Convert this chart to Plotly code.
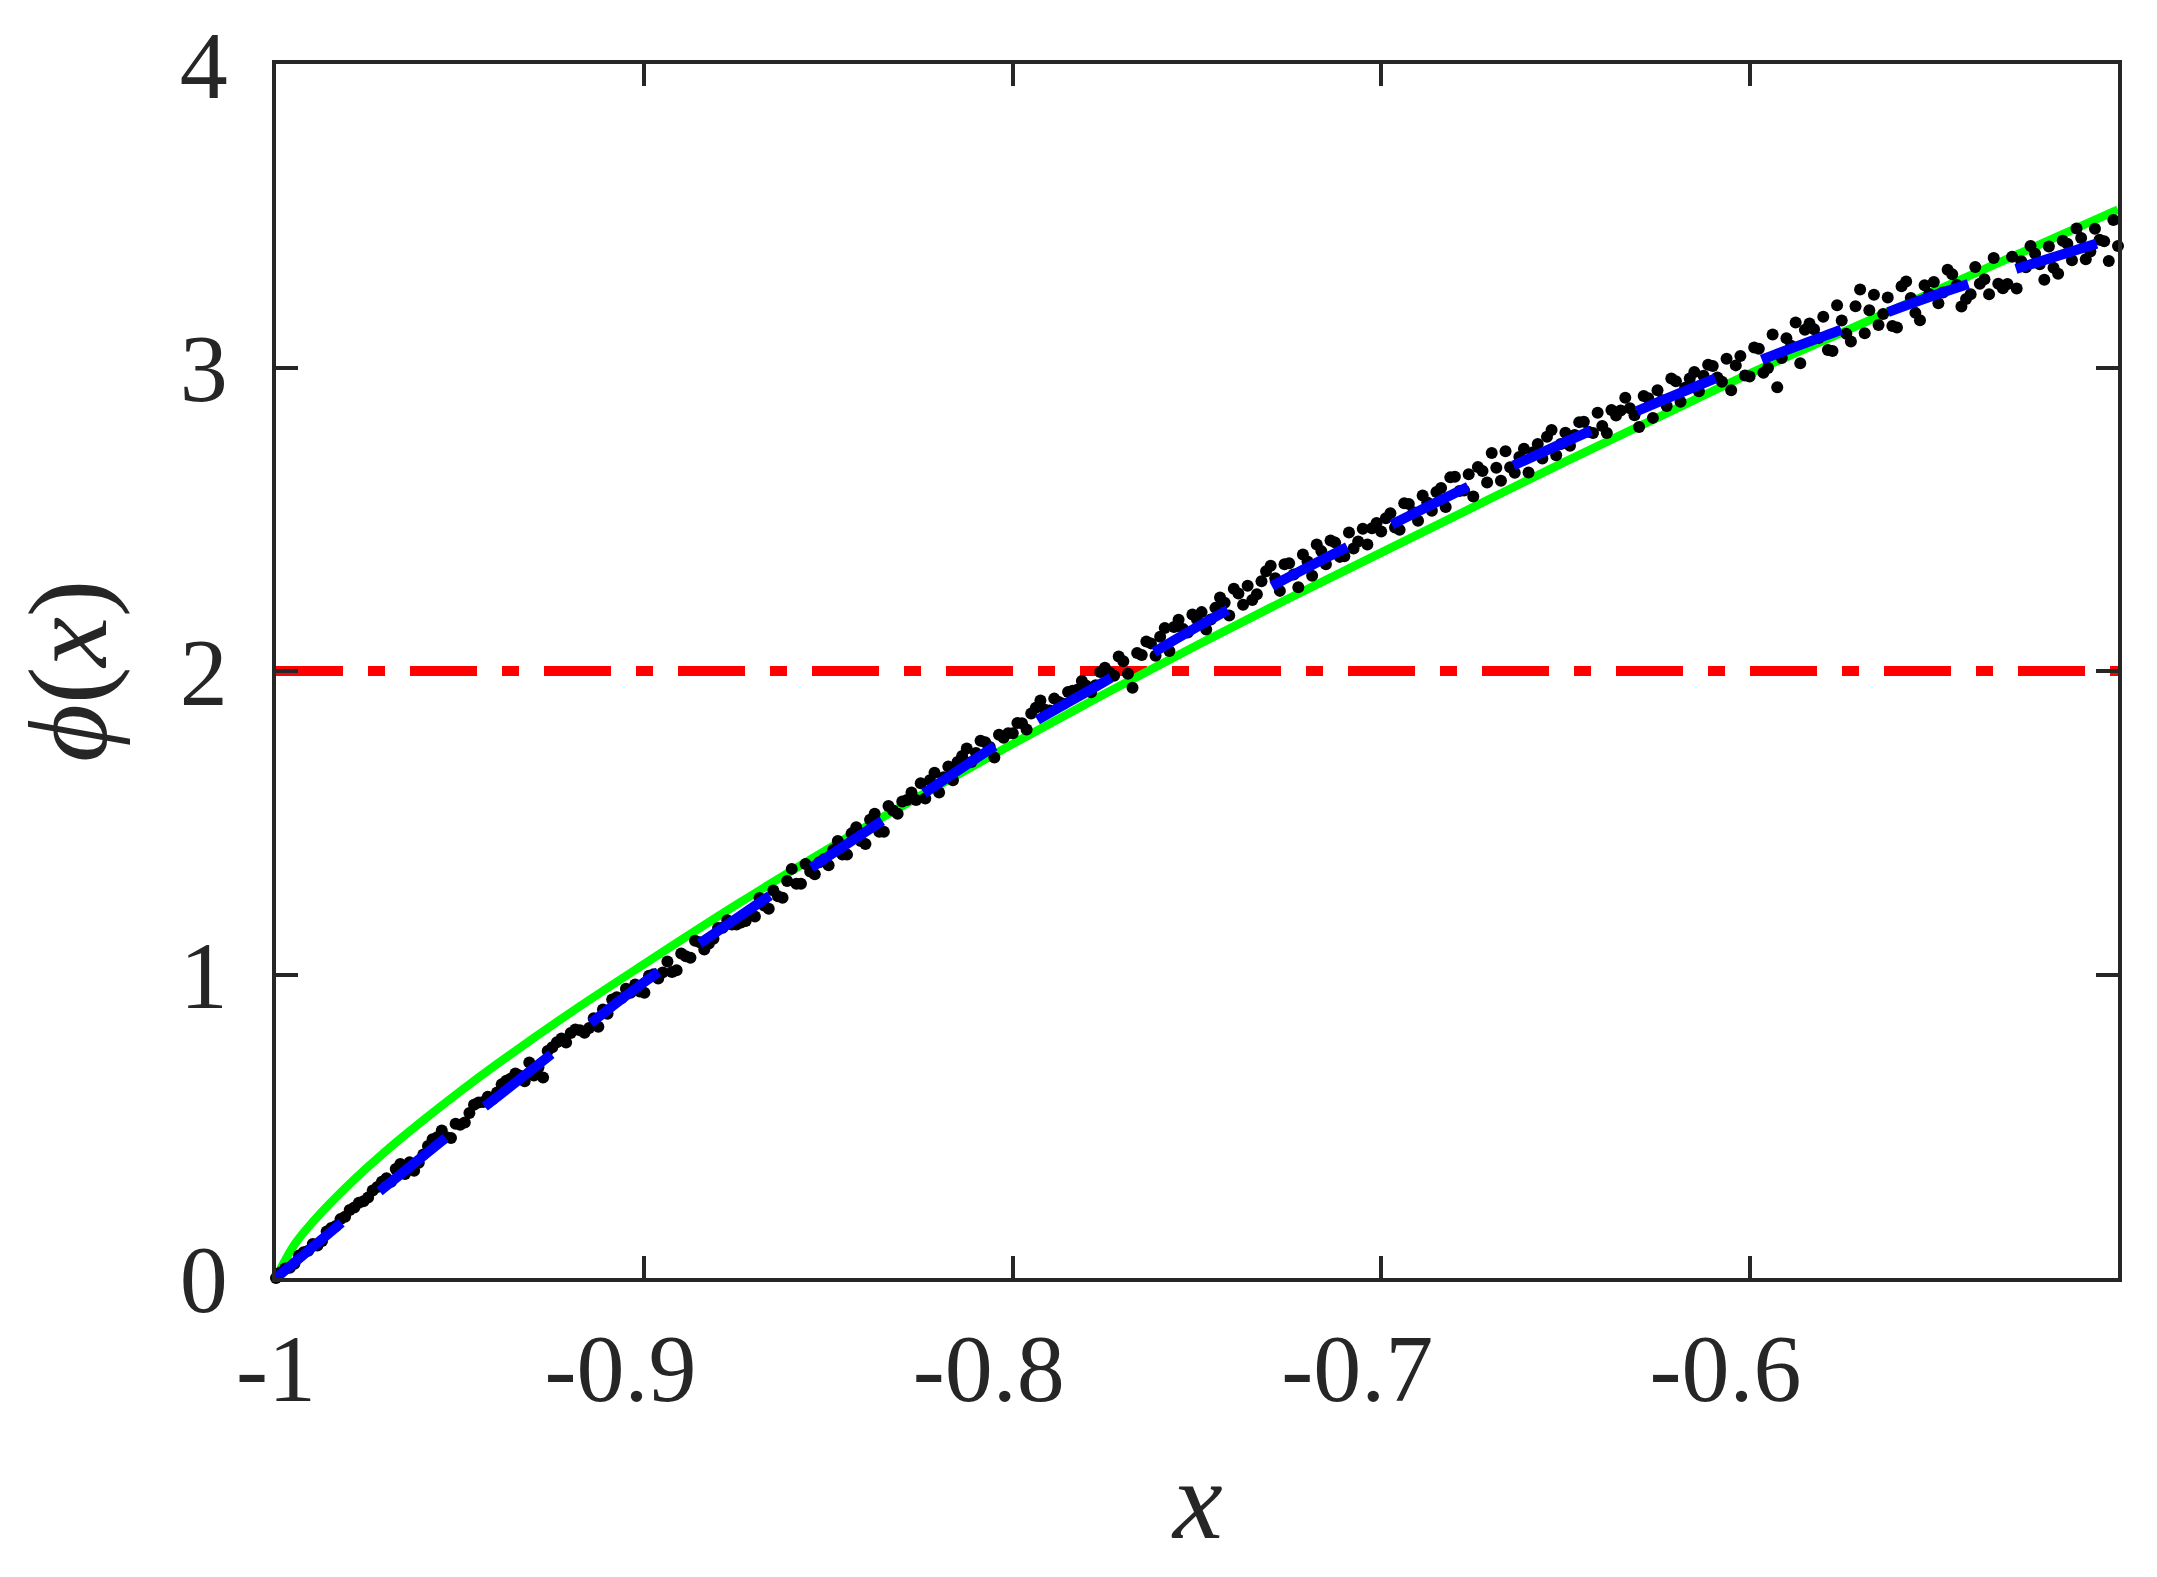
import plotly.graph_objects as go

# ---- data ----
x_ticks = [-1, -0.9, -0.8, -0.7, -0.6]
x_tick_labels = ["-1", "-0.9\u00a0\u00a0", "-0.8\u00a0\u00a0", "-0.7\u00a0\u00a0", "-0.6\u00a0\u00a0"]
y_ticks = [0, 1, 2, 3, 4]
y_tick_labels = ["0", "1", "2", "3", "4"]
x_title = "<i>x</i>"
y_title = "<i>ϕ</i>(<i>x</i>)"

# green solid curve
green_x = [-1.0, -0.995, -0.99, -0.98, -0.97, -0.96, -0.95, -0.94, -0.92, -0.90, -0.875, -0.85,
           -0.825, -0.80, -0.775, -0.75, -0.725, -0.70, -0.675, -0.65, -0.625, -0.60, -0.575,
           -0.55, -0.525, -0.50]
green_y = [0.0, 0.11, 0.185, 0.31, 0.42, 0.52, 0.615, 0.705, 0.875, 1.035, 1.23, 1.415,
           1.59, 1.76, 1.925, 2.085, 2.24, 2.39, 2.54, 2.69, 2.835, 2.98, 3.115,
           3.25, 3.385, 3.52]

# blue dashed curve
blue_x = [-1.0, -0.975, -0.95, -0.925, -0.90, -0.875, -0.85, -0.825, -0.80, -0.775, -0.75,
          -0.725, -0.70, -0.675, -0.65, -0.625, -0.60, -0.575, -0.55, -0.525, -0.50]
blue_y = [0.0, 0.255, 0.50, 0.74, 0.975, 1.185, 1.39, 1.59, 1.79, 1.966, 2.145,
          2.31, 2.465, 2.615, 2.755, 2.885, 3.01, 3.125, 3.237, 3.335, 3.43]

# red dash-dot reference level
level_x = [-1.0, -0.5]
level_y = [2.0, 2.0]

# black sample points, first set (x from -1 in steps of 0.0025)
dots_x_start = -1.0
dots_x_step = 0.0025
dots_y = [
    0.000, 0.031, 0.047, 0.085, 0.112, 0.122, 0.165, 0.194, 0.224, 0.248,
    0.265, 0.300, 0.329, 0.359, 0.343, 0.353, 0.407, 0.457, 0.486, 0.461,
    0.505, 0.544, 0.578, 0.597, 0.611, 0.650, 0.674, 0.648, 0.667, 0.661,
    0.760, 0.789, 0.807, 0.816, 0.824, 0.828, 0.871, 0.925, 0.953, 0.967,
    0.940, 1.001, 1.007, 1.008, 1.069, 1.055, 1.106, 1.102, 1.153, 1.179,
    1.165, 1.176, 1.191, 1.227, 1.277, 1.253, 1.348, 1.299, 1.339, 1.370,
    1.360, 1.440, 1.395, 1.485, 1.430, 1.530, 1.470, 1.540, 1.570, 1.600,
    1.630, 1.640, 1.600, 1.685, 1.700, 1.745, 1.730, 1.765, 1.715, 1.780,
    1.795, 1.828, 1.860, 1.903, 1.870, 1.898, 1.931, 1.938, 1.951, 1.953,
    2.011, 1.984, 2.032, 1.945, 2.053, 2.091, 2.113, 2.066, 2.169, 2.127,
    2.170, 2.137, 2.208, 2.225, 2.271, 2.218, 2.234, 2.296, 2.347, 2.264,
    2.355, 2.276, 2.361, 2.417, 2.352, 2.423, 2.378, 2.404, 2.469, 2.470,
    2.460, 2.520, 2.465, 2.550, 2.495, 2.555, 2.590, 2.540, 2.640, 2.595,
    2.575, 2.659, 2.718, 2.627, 2.671, 2.705, 2.654, 2.748, 2.772, 2.711,
    2.785, 2.778, 2.821, 2.784, 2.807, 2.860, 2.858, 2.866, 2.804, 2.899,
    2.925, 2.873, 2.955, 2.933, 2.985, 2.973, 3.005, 2.953, 2.925, 3.038,
    2.970, 3.062, 2.998, 2.935, 3.096, 3.148, 3.124, 3.126, 3.167, 3.054,
    3.155, 3.086, 3.257, 3.189, 3.140, 3.231, 3.132, 3.283, 3.180, 3.271,
    3.282, 3.247, 3.307, 3.201, 3.241, 3.276, 3.241, 3.276, 3.275, 3.260,
    3.330, 3.375, 3.289, 3.329, 3.418, 3.353, 3.427, 3.382, 3.421, 3.351, 3.400,
]
dots_x = [dots_x_start + dots_x_step * i for i in range(len(dots_y))]

# black sample points, second set (interleaved, x from -0.99875 in steps of 0.0025)
dots2_x_start = -0.99875
dots2_y = [
    0.018, 0.034, 0.074, 0.090, 0.107, 0.153, 0.171, 0.202, 0.232, 0.253,
    0.288, 0.317, 0.317, 0.376, 0.381, 0.380, 0.435, 0.464, 0.464, 0.508,
    0.512, 0.571, 0.580, 0.589, 0.638, 0.657, 0.666, 0.710, 0.694, 0.748,
    0.777, 0.776, 0.819, 0.808, 0.856, 0.885, 0.918, 0.922, 0.940, 0.944,
    0.996, 0.987, 1.043, 1.014, 1.060, 1.111, 1.082, 1.118, 1.154, 1.165,
    1.171, 1.206, 1.252, 1.217, 1.258, 1.308, 1.299, 1.364, 1.330, 1.380,
    1.410, 1.395, 1.465, 1.440, 1.510, 1.470, 1.555, 1.530, 1.575, 1.575,
    1.580, 1.665, 1.650, 1.640, 1.720, 1.700, 1.770, 1.750, 1.790, 1.795,
    1.829, 1.807, 1.879, 1.872, 1.909, 1.892, 1.935, 1.967, 1.930, 1.997,
    1.995, 2.048, 1.991, 2.059, 2.097, 2.050, 2.142, 2.145, 2.138, 2.186,
    2.194, 2.170, 2.242, 2.183, 2.255, 2.281, 2.253, 2.329, 2.306, 2.352,
    2.318, 2.384, 2.314, 2.395, 2.430, 2.376, 2.456, 2.427, 2.417, 2.488,
    2.503, 2.473, 2.553, 2.523, 2.578, 2.528, 2.603, 2.638, 2.593, 2.648,
    2.672, 2.621, 2.670, 2.724, 2.653, 2.732, 2.721, 2.700, 2.794, 2.748,
    2.742, 2.820, 2.788, 2.851, 2.784, 2.842, 2.900, 2.843, 2.906, 2.834,
    2.892, 2.964, 2.887, 2.964, 2.922, 3.009, 2.967, 3.029, 3.007, 2.974,
    3.066, 2.983, 3.109, 3.031, 3.072, 3.014, 3.145, 3.097, 3.058, 3.205,
    3.111, 3.202, 3.113, 3.240, 3.176, 3.137, 3.268, 3.229, 3.156, 3.242,
    3.212, 3.322, 3.272, 3.226, 3.331, 3.291, 3.361, 3.261, 3.365, 3.350,
    3.400, 3.340, 3.399, 3.309, 3.408, 3.458, 3.357, 3.457, 3.416, 3.486,
]
dots2_x = [dots2_x_start + dots_x_step * i for i in range(len(dots2_y))]

AX = "#262626"
FONT = "Liberation Serif"

fig = go.Figure()
fig.add_trace(go.Scatter(x=level_x, y=level_y, mode="lines",
                         line=dict(color="#FF0000", width=10, dash="67px,25px,17px,25px")))
fig.add_trace(go.Scatter(x=green_x, y=green_y, mode="lines",
                         line=dict(color="#00FF00", width=8.5, shape="spline")))
fig.add_trace(go.Scatter(x=dots_x + dots2_x, y=dots_y + dots2_y, mode="markers", cliponaxis=False,
                         marker=dict(color="black", size=12, line=dict(width=0))))
fig.add_trace(go.Scatter(x=blue_x, y=blue_y, mode="lines",
                         line=dict(color="#0000FF", width=10, dash="85px,50px", shape="spline")))

fig.update_layout(
    width=2157, height=1577,
    margin=dict(l=276, r=39, t=58, b=299),
    paper_bgcolor="white", plot_bgcolor="white",
    showlegend=False,
    font=dict(family=FONT, color=AX),
    annotations=[
        dict(text=x_title, xref="paper", yref="paper", x=0.5, y=0,
             xanchor="center", yanchor="middle", yshift=-222, showarrow=False,
             font=dict(family=FONT, size=112, color=AX)),
        dict(text=y_title, xref="paper", yref="paper", x=0, y=0.5, textangle=-90,
             xanchor="center", yanchor="middle", xshift=-208, showarrow=False,
             font=dict(family=FONT, size=112, color=AX)),
    ],
)
fig.update_xaxes(
    range=[-1, -0.5], tickvals=x_ticks, ticktext=x_tick_labels,
    showline=True, linecolor=AX, linewidth=4, mirror="ticks",
    ticks="inside", ticklen=22, tickwidth=4, tickcolor=AX,
    showgrid=False, zeroline=False, ticklabeloverflow="allow",
    tickfont=dict(family=FONT, size=96, color=AX), ticklabelstandoff=4,
)
fig.update_yaxes(
    range=[0, 4], tickvals=y_ticks, ticktext=y_tick_labels,
    showline=True, linecolor=AX, linewidth=4, mirror="ticks",
    ticks="inside", ticklen=22, tickwidth=4, tickcolor=AX,
    showgrid=False, zeroline=False, ticklabeloverflow="allow",
    tickfont=dict(family=FONT, size=96, color=AX), ticklabelstandoff=25,
)

fig.write_html("out.html", config={"displayModeBar": False},
               post_script="document.body.style.margin='0';")
